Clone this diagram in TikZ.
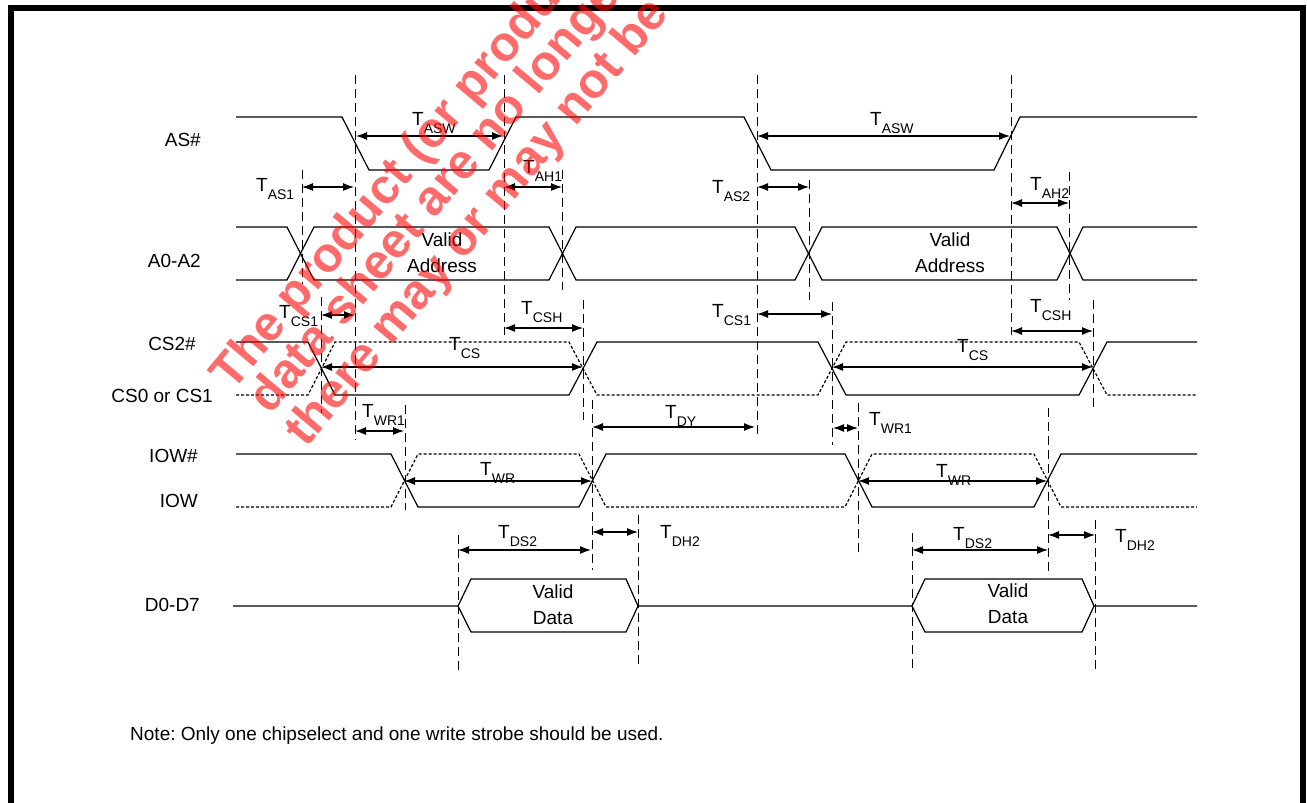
\documentclass[tikz,border=0pt]{standalone}
\usepackage{fontspec}
\setmainfont{Liberation Sans}
\usetikzlibrary{arrows.meta}
\frenchspacing

\tikzset{
	sig/.style={line width=1.2pt, line join=miter},
	alt/.style={sig, dash pattern=on 3pt off 2pt},
	guide/.style={line width=1pt, dash pattern=on 9pt off 5pt},
	span/.style={line width=1.2pt, {Latex[length=11pt,width=8pt]}-{Latex[length=11pt,width=8pt]}},
	lab/.style={font=\fontsize{19}{26}\selectfont, inner sep=0pt},
	tlab/.style={lab, anchor=base west},
	wm/.style={text=red, text opacity=0.58, font=\fontsize{49}{49}\selectfont\bfseries, rotate=50, anchor=base west, inner sep=0pt}
}
\newcommand{\Tsub}[1]{T\raisebox{-8pt}{\fontsize{14}{14}\selectfont #1}}

\begin{document}
\begin{tikzpicture}[x=1pt,y=-1pt]
	\useasboundingbox (0,0) rectangle (1307,803);
	\clip (0,0) rectangle (1307,803);
	% frame
	\draw[line width=6pt] (11,803) -- (11,8) -- (1303,8) -- (1303,803);
	% signal names
	\node[lab, anchor=base east] (as) at (201,146) {AS\#};
	\node[lab, anchor=base east] (addr) at (201,267) {A0-A2};
	\node[lab, anchor=base east] (cs2) at (196,350) {CS2\#};
	\node[lab, anchor=base east] (cs01) at (213,402) {CS0 or CS1};
	\node[lab, anchor=base east] (iown) at (198,462) {IOW\#};
	\node[lab, anchor=base east] (iow) at (198,507) {IOW};
	\node[lab, anchor=base east] (data) at (200,611) {D0-D7};
	% AS#
	\draw[sig] (236,117) -- (342,117) -- (369,170) -- (489,170) -- (516,117) -- (744,117) -- (771,170) -- (994,170) -- (1020,117) -- (1197,117);
	% A0-A2
	\draw[sig] (236,227) -- (287,227) -- (314,280) -- (549,280) -- (576,227) -- (795,227) -- (822,280) -- (1057,280) -- (1083,227) -- (1197,227);
	\draw[sig] (236,280) -- (287,280) -- (314,227) -- (549,227) -- (576,280) -- (795,280) -- (822,227) -- (1057,227) -- (1083,280) -- (1197,280);
	\node[lab, align=center] (va1) at (442,253) {Valid\\Address};
	\node[lab, align=center] (va2) at (950,253) {Valid\\Address};
	% CS2# / CS0 or CS1
	\draw[sig] (236,342) -- (308,342) -- (335,395) -- (569,395) -- (597,342) -- (818,342) -- (846,395) -- (1079,395) -- (1107,342) -- (1197,342);
	\draw[alt] (236,395) -- (308,395) -- (335,342) -- (569,342) -- (597,395) -- (818,395) -- (846,342) -- (1079,342) -- (1107,395) -- (1197,395);
	% IOW# / IOW
	\draw[sig] (236,454) -- (391,454) -- (418,507) -- (579,507) -- (606,454) -- (845,454) -- (872,507) -- (1034,507) -- (1061,454) -- (1197,454);
	\draw[alt] (236,507) -- (391,507) -- (418,454) -- (579,454) -- (606,507) -- (845,507) -- (872,454) -- (1034,454) -- (1061,507) -- (1197,507);
	% D0-D7
	\draw[sig] (233,606) -- (458,606) -- (471,579) -- (626,579) -- (638,606) -- (912,606) -- (925,579) -- (1082,579) -- (1094,606) -- (1197,606);
	\draw[sig] (458,606) -- (471,632) -- (626,632) -- (638,606);
	\draw[sig] (912,606) -- (925,632) -- (1082,632) -- (1094,606);
	\node[lab, align=center] (vd1) at (553,605) {Valid\\Data};
	\node[lab, align=center] (vd2) at (1008,604) {Valid\\Data};
	% dashed guides
	\foreach \x/\ya/\yb in {302/170/284, 355/75/440, 504/75/335, 562/170/290, 321/297/413,
		583/300/420, 405/405/510, 592/400/570, 458/535/670, 638/515/668,
		757/75/438, 809/180/300, 1011/75/335, 1069/172/300, 832/302/445,
		1093/300/407, 858/403/557, 1048/408/573, 912/533/670, 1095/520/673}
		\draw[guide] (\x,\ya) -- (\x,\yb);
	% timing spans
	\foreach \y/\xa/\xb/\lx/\ly/\s [count=\i] in {136/356/503/412/125/ASW, 136/757/1010/870/125/ASW,
		187/302/354/256/191/AS1, 187/504/562/523/173/AH1, 187/757/809/712/193/AS2,
		203/1011/1069/1030/190/AH2, 315/321/355/279/318/CS1, 328/504/583/521/314/CSH,
		314/757/832/712/317/CS1, 331/1011/1093/1030/312/CSH, 367/321/583/449/350/CS,
		367/832/1093/957/352/CS, 431/355/404/362/417/WR1, 427/592/755/665/418/DY,
		428/833/858/869/425/WR1, 481/404/592/480/475/WR, 481/858/1047/936/477/WR,
		550/458/591/498/538/DS2, 532/592/638/660/538/DH2, 550/912/1048/953/540/DS2,
		535/1048/1095/1115/542/DH2}
	{
		\draw[span] (\xa,\y) -- (\xb,\y);
		\node[tlab] (t\i) at (\lx,\ly) {\Tsub{\s}};
	}
	% note
	\node[lab, anchor=base west] (note) at (130,740) {Note: Only one chipselect and one write strobe should be used.};
	% watermark
	\node[wm] (wm1) at (232,393) {The product (or products)};
	\node[wm] (wm2) at (270,416) {data sheet are no longer};
	\node[wm] (wm3) at (306,449) {there may or may not be};
\end{tikzpicture}
\end{document}
